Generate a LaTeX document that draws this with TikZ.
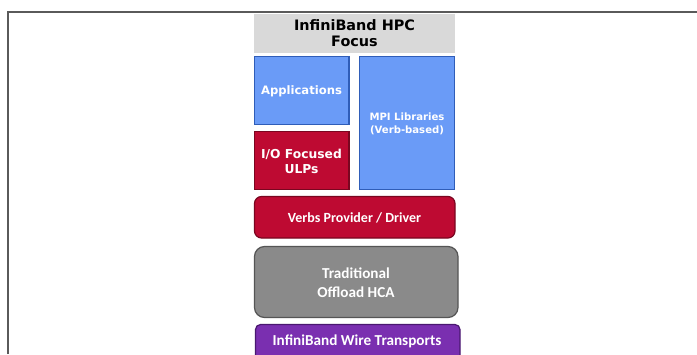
\documentclass[tikz,border=0pt]{standalone}
\usepackage{fontspec}
\setmainfont{DejaVu Sans}
\newfontfamily\calfont{Carlito}
\definecolor{hdrgray}{HTML}{D9D9D9}
\definecolor{appblue}{HTML}{6A9BF7}
\definecolor{appblueD}{HTML}{2F5DB8}
\definecolor{ulpred}{HTML}{BE0A32}
\definecolor{ulpredD}{HTML}{7A0620}
\definecolor{hcagray}{HTML}{8A8A8A}
\definecolor{hcagrayD}{HTML}{555555}
\definecolor{wirepurple}{HTML}{7A2FB0}
\definecolor{wirepurpleD}{HTML}{4A1870}
\definecolor{framegray}{HTML}{5A5A5A}
\tikzset{
  x=1pt, y=-1pt,
  layer/.style={inner sep=0pt, align=center, text=white, font=\bfseries},
  bluebox/.style={layer, fill=appblue, draw=appblueD, line width=1.2pt},
  redbox/.style={layer, fill=ulpred, draw=ulpredD, line width=1.2pt},
  graybox/.style={layer, fill=hcagray, draw=hcagrayD, line width=1.2pt},
  purplebox/.style={layer, fill=wirepurple, draw=wirepurpleD, line width=1.2pt},
}
\begin{document}
\begin{tikzpicture}
\useasboundingbox (0,0) rectangle (697,354);
\fill[white] (0,0) rectangle (697,354);
% page frame
\draw[framegray, line width=1.6pt] (8,354) -- (8,12) -- (697,12);

% heading
\fill[hdrgray] (254,13.5) rectangle (455,53);
\node[font=\bfseries\fontsize{14.4}{16}\selectfont, align=center, text=black] (hdr) at (354.5,33) {InfiniBand HPC\\Focus};

% upper stack
\draw[bluebox] (254.5,56.5) rectangle (349,124.5);
\node[layer, font=\bfseries\fontsize{11.6}{13}\selectfont] (apps) at (301.5,91) {Applications};

\draw[bluebox] (359.5,56.5) rectangle (454.5,189.5);
\node[layer, font=\bfseries\fontsize{10.1}{13}\selectfont] (mpi) at (407,124) {MPI Libraries\\(Verb-based)};

\draw[redbox] (254.5,131.5) rectangle (349,189.5);
\node[layer, font=\bfseries\fontsize{12.3}{15}\selectfont] (ulp) at (301.5,161) {I/O Focused\\ULPs};

% driver, adapter, wire
\draw[redbox, rounded corners=7pt] (254.5,196.5) rectangle (455,238);
\node[layer, font=\calfont\bfseries\fontsize{14}{16}\selectfont] (verbs) at (354.5,218) {Verbs Provider / Driver};

\draw[graybox, rounded corners=10pt] (254.5,246.5) rectangle (458,317.5);
\node[layer, font=\calfont\bfseries\fontsize{15.2}{19}\selectfont] (hca) at (356,283) {Traditional\\Offload HCA};

\draw[purplebox, rounded corners=5pt] (255.5,324.5) -- (255.5,360) -- (460,360) -- (460,324.5) -- cycle;
\node[layer, font=\calfont\bfseries\fontsize{15.2}{18}\selectfont] (wire) at (357,341) {InfiniBand Wire Transports};
\end{tikzpicture}
\end{document}
